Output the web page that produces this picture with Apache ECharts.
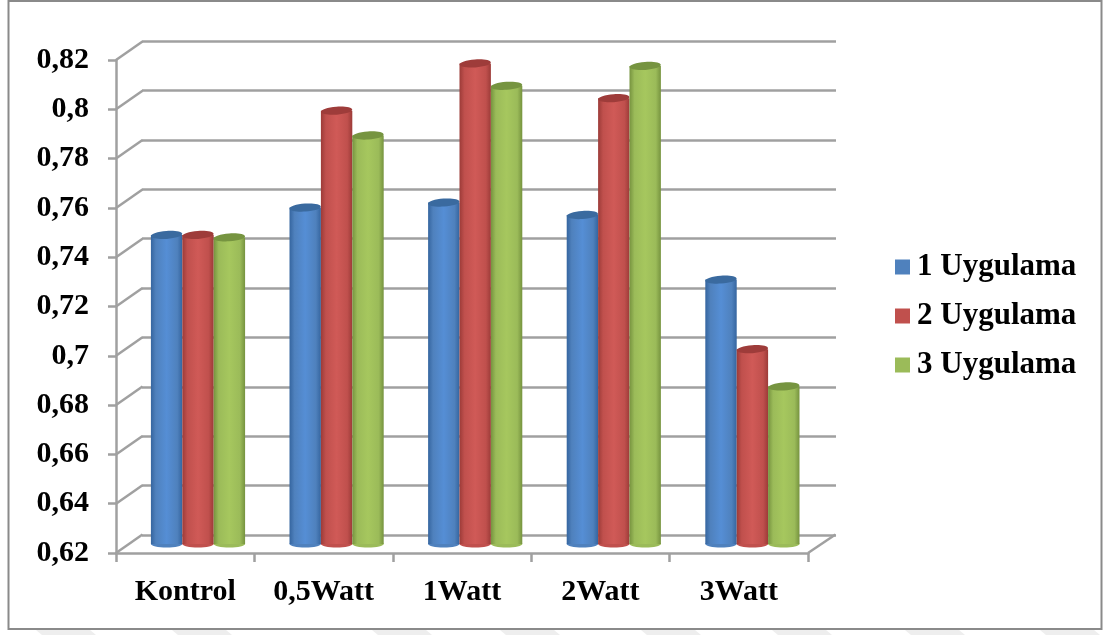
<!DOCTYPE html>
<html><head><meta charset="utf-8">
<style>html,body{margin:0;padding:0;background:#fff}#c{width:1103px;height:635px}</style>
<script src="https://cdn.jsdelivr.net/npm/echarts@6/dist/echarts.min.js"></script>
</head><body><div id="c"></div>
<script>
const categories = ['Kontrol','0,5Watt','1Watt','2Watt','3Watt'];
const seriesNames = ['1 Uygulama','2 Uygulama','3 Uygulama'];
const uygulama1 = [0.746,0.757,0.759,0.754,0.728];
const uygulama2 = [0.746,0.796,0.815,0.801,0.700];
const uygulama3 = [0.745,0.786,0.806,0.814,0.685];
const yTicks = [0.62,0.64,0.66,0.68,0.70,0.72,0.74,0.76,0.78,0.80,0.82];
const yTickLabels = ['0,62','0,64','0,66','0,68','0,7','0,72','0,74','0,76','0,78','0,8','0,82'];
const watermarkStarts = [36,172,372,500,641,772,905,1040];
const palette = [
  {base:'#4f81bd',light:'#558ed5',dark:'#35659f',top:'#3a6a9f'},
  {base:'#c0504d',light:'#d05a57',dark:'#9c3b38',top:'#9e3c3a'},
  {base:'#9bbb59',light:'#a6c75e',dark:'#76933f',top:'#769440'}
];
const GRID='#a0a0a0', FONT='"Liberation Serif","Times New Roman",serif';
const DX=26.5, DY=-18.5;
const chart = echarts.init(document.getElementById('c'),null,{renderer:'canvas'});
function cyl(idx){
  return function(params,api){
    const cat=api.value(0), v=api.value(1);
    const top=api.coord([cat,v]), base=api.coord([cat,0.62]);
    const band=api.size([1,0])[0], w=band*0.2265, x=top[0]+(idx-1.5)*w;
    const c=palette[idx], cx=x+w/2, by=base[1]-4;
    const grad=new echarts.graphic.LinearGradient(0,0,1,0,[
      {offset:0,color:c.dark},{offset:0.16,color:c.base},{offset:0.5,color:c.light},{offset:0.84,color:c.base},{offset:1,color:c.dark}]);
    return {type:'group',children:[
      {type:'ellipse',shape:{cx:cx,cy:by,rx:w/2,ry:3.5},style:{fill:c.base}},
      {type:'rect',shape:{x:x,y:top[1],width:w,height:by-top[1]},style:{fill:grad}},
      {type:'ellipse',shape:{cx:cx,cy:top[1],rx:w/2,ry:4},rotation:0.07,originX:cx,originY:top[1],style:{fill:c.top}}
    ]};
  };
}
function depth(params,api){
  const p=api.coord([0,api.value(1)]);
  const x=p[0]-api.size([1,0])[0]/2;
  return {type:'line',shape:{x1:x,y1:p[1],x2:x+DX,y2:p[1]+DY},style:{stroke:GRID,lineWidth:2.5}};
}
function floorRight(params,api){
  const p=api.coord([4,0.62]);
  const x=p[0]+api.size([1,0])[0]/2;
  return {type:'line',shape:{x1:x,y1:p[1],x2:x+DX+1,y2:p[1]+DY},style:{stroke:GRID,lineWidth:2.5}};
}
const hide={show:false};
const rows=[uygulama1,uygulama2,uygulama3];
const lineW={color:GRID,width:2.5};
chart.setOption({
  animation:false,
  backgroundColor:'#fff',
  graphic:[{type:'rect',z:-1,silent:true,shape:{x:8.5,y:1,width:1093,height:628},style:{fill:'#fff',stroke:'#8a8a8a',lineWidth:2}}]
    .concat(watermarkStarts.map(s=>({type:'polygon',z:-2,silent:true,
      shape:{points:[[s,630],[s+54,630],[s+60,635],[s+6,635]]},style:{fill:'#eeeeee'}}))),
  legend:{orient:'vertical',left:895,top:247,padding:0,itemWidth:15,itemHeight:15,itemGap:9,icon:'rect',
    data:seriesNames,textStyle:{fontFamily:FONT,fontWeight:'bold',fontSize:31,color:'#000',padding:[8,0,0,2],lineHeight:32}},
  grid:[
    {left:142,top:41,width:694,height:494},
    {left:116,top:60,width:692,height:493},
    {left:128.7,top:51,width:693,height:497}
  ],
  xAxis:[
    {gridIndex:0,type:'category',data:categories,show:false},
    {gridIndex:1,type:'category',data:categories,boundaryGap:true,
      axisLine:{lineStyle:lineW},axisTick:{show:true,alignWithLabel:false,length:9,lineStyle:lineW},
      axisLabel:{interval:0,margin:24,fontFamily:FONT,fontWeight:'bold',fontSize:30,color:'#000'}},
    {gridIndex:2,type:'category',data:categories,show:false}
  ],
  yAxis:[
    {gridIndex:0,type:'value',min:0.62,max:0.82,interval:0.02,axisLine:hide,axisTick:hide,axisLabel:hide,
      splitLine:{show:true,lineStyle:lineW}},
    {gridIndex:1,type:'value',min:0.62,max:0.82,interval:0.02,splitLine:hide,
      axisLine:{show:true,lineStyle:lineW},axisTick:{show:true,length:8,lineStyle:lineW},
      axisLabel:{margin:27,padding:[6,0,0,0],fontFamily:FONT,fontWeight:'bold',fontSize:30,color:'#000',
        formatter:function(v){const i=yTicks.findIndex(t=>Math.abs(t-v)<1e-6);return yTickLabels[i];}}},
    {gridIndex:2,type:'value',min:0.62,max:0.82,interval:0.02,show:false,splitLine:hide}
  ],
  series:[
    {type:'custom',name:'depth',xAxisIndex:1,yAxisIndex:1,silent:true,z:1,clip:false,renderItem:depth,
      encode:{x:0,y:1},data:yTicks.map(t=>[0,t])},
    {type:'custom',name:'floor',xAxisIndex:1,yAxisIndex:1,silent:true,z:1,clip:false,renderItem:floorRight,
      encode:{x:0,y:1},data:[[4,0.62]]}
  ].concat(rows.map((vals,i)=>({
    type:'custom',name:seriesNames[i],xAxisIndex:2,yAxisIndex:2,z:3,clip:false,
    itemStyle:{color:palette[i].base},renderItem:cyl(i),encode:{x:0,y:1},
    data:vals.map((v,k)=>[k,v])
  })))
});
</script></body></html>
